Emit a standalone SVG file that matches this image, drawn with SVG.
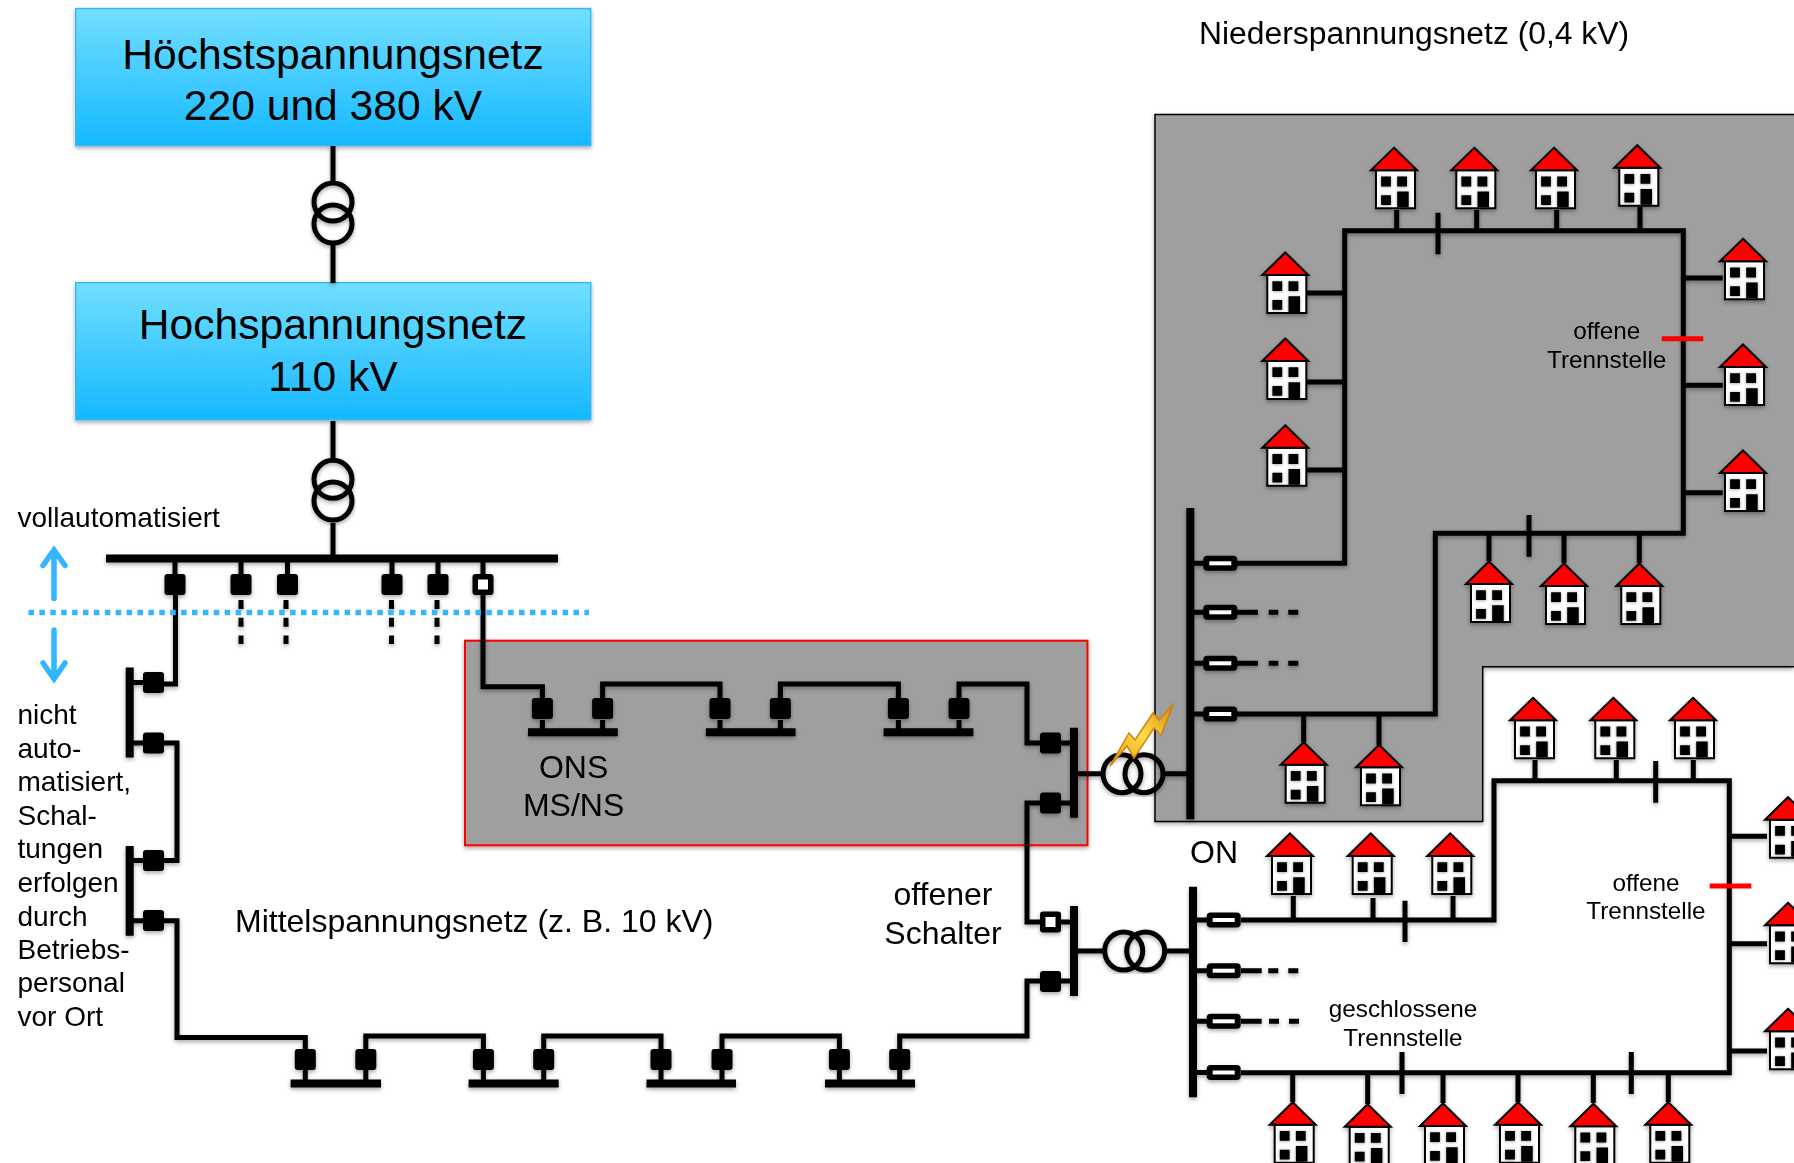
<svg xmlns="http://www.w3.org/2000/svg" width="1794" height="1163" viewBox="0 0 1794 1163">
<style>
text{font-family:"Liberation Sans",Arial,sans-serif;fill:#000}
.big{font-size:42.6px;text-anchor:middle}
.mid{font-size:32px}
.c{text-anchor:middle}
.sm{font-size:28px}
.xs{font-size:24.300px;text-anchor:middle}
.w{fill:none;stroke:#000;stroke-width:5;stroke-linejoin:miter}
.bus{fill:none;stroke:#000;stroke-width:8}
.dash{fill:none;stroke:#000;stroke-width:5}
.ring{fill:none;stroke:#000;stroke-width:5}
.sw{fill:#000}
.in{fill:#fff}
.red{stroke:#f00;stroke-width:5;fill:none}
</style>
<defs>
<linearGradient id="bg" x1="0" y1="0" x2="0" y2="1"><stop offset="0" stop-color="#72dfff"/><stop offset="1" stop-color="#15b8ff"/></linearGradient>
<linearGradient id="gold" x1="0" y1="1" x2="1" y2="0"><stop offset="0" stop-color="#e8960f"/><stop offset=".5" stop-color="#ffdf45"/><stop offset="1" stop-color="#d08410"/></linearGradient>
<filter id="sh" x="-10%" y="-10%" width="120%" height="120%"><feDropShadow dx="0" dy="2" stdDeviation="2" flood-color="#000" flood-opacity=".35"/></filter>
<filter id="halo" x="-30%" y="-30%" width="160%" height="160%"><feDropShadow dx="0" dy="0.500" stdDeviation="1.800" flood-color="#000" flood-opacity=".4"/></filter>
<symbol id="house" overflow="visible" viewBox="-25 0 50 64" width="50" height="64">
<path d="M-18 23H21V61H-18Z" fill="#fff" stroke="#000" stroke-width="2"/>
<path d="M-12.900 29.300h9.800v9.800h-9.800zM3.200 29.300h9.800v9.800h-9.800zM-12.900 48h9.800v9.800h-9.800zM3.200 44.300h11.500V60H3.200z" fill="#000" filter="url(#halo)"/>
<path d="M0 0.500L23 23H-23Z" fill="#f00" stroke="#000" stroke-width="2" stroke-linejoin="miter"/>
</symbol>
</defs>

<path id="nsnetz-flaeche" d="M1794 114.500H1155V821.500H1482.700V666.700H1794" fill="#9f9f9f" stroke="#000" stroke-width="1.500" filter="url(#sh)"/>
<rect id="ons-bereich" x="465" y="640.700" width="622.500" height="204.600" fill="#9f9f9f" stroke="#f00" stroke-width="2" filter="url(#sh)"/>

<g id="hoechst"><rect x="75.700" y="8.600" width="515" height="137" fill="url(#bg)" stroke="#3ab5f5" stroke-width="1.500" filter="url(#sh)"/>
<text class="big" x="333" y="69">Höchstspannungsnetz</text>
<text class="big" x="333" y="120">220 und 380 kV</text></g>
<g id="hoch"><rect x="75.700" y="282.700" width="515" height="137" fill="url(#bg)" stroke="#3ab5f5" stroke-width="1.500" filter="url(#sh)"/>
<text class="big" x="333" y="339">Hochspannungsnetz</text>
<text class="big" x="333" y="391">110 kV</text></g>

<g id="connectors" filter="url(#sh)">
<path class="w" d="M333 146V181M333 245V283M333 421V458M333 523V559"/>
<path class="bus" d="M106 558.600H558"/>
<path class="w" d="M175 559V574M241 559V574M287.500 559V574M392 559V574M438 559V574M483 559V574"/>
<path class="dash" stroke-dasharray="9 8.700" d="M241 600V644M286 600V644M391.500 600V644M437 600V644"/>
<path class="w" d="M175.500 595V684H164M143 682.500H133"/>
<path class="bus" d="M129.700 667.500V757.500M129.700 846V935.700"/>
<path class="w" d="M133 743H143M164 743H177V860.400H164M143 860.400H133M133 920.700H143M164 920.700H177V1037.500H305.300V1050M305.300 1070V1083"/>
<path class="w" d="M365.800 1083V1070M365.800 1050V1036H483.400V1050M483.400 1070V1083M543.700 1083V1070M543.700 1050V1036H661V1050M661 1070V1083M722 1083V1070M722 1050V1036H839.400V1050M839.400 1070V1083M899.700 1083V1070M899.700 1050V1036H1027V981H1040M1061 981H1071M1071 922H1061M1040 922H1027V803H1040M1061 803H1071M1071 743H1061M1040 743H1027V684H959V700M959 720V732M898.400 732V720M898.400 700V684H780.400V700M780.400 720V732M720 732V720M720 700V684H602.600V700M602.600 720V732M542.400 732V720M542.400 700V686.700H483V595"/>
<path class="bus" d="M528 732.300H617.800M705.900 732.300H795.600M883.600 732.300H973.400M290.600 1083.600H381M468.600 1083.600H558.700M646.500 1083.600H736M825 1083.600H915"/>
<path class="bus" d="M1074 727.700V817.700M1074 906V996"/>
<path class="w" d="M1074 773.700H1101M1165 773.700H1190M1074 951H1103M1167 951H1193"/>
<path class="bus" d="M1190.300 508V819.300M1193 886.700V1097.300"/>
<path class="w" d="M1190 563.300H1204M1237 563.300H1344.700V230.700H1683.300V533.300H1435.300V714H1237M1190 714H1204M1190 612.300H1204M1237 612.300H1258M1190 663.300H1204M1237 663.300H1258"/>
<path class="w" d="M1268.700 612.300H1278.300M1288.300 612.300H1298.300M1268.700 663.300H1278.300M1288.300 663.300H1298.300"/>
<path class="w" d="M1396.700 210V231M1476.700 210V231M1556.700 210V231M1640 207V231M1438 212.700V254.300M1306.700 293H1345M1306.700 382H1345M1306.700 470H1345M1684 278H1722.700M1684 385.300H1722.700M1684 492.700H1722.700M1303.700 714V742M1379 714V745M1489 533V561M1564 533V563M1639.300 533V563M1529 515V556.700"/>
<path class="w" d="M1193 920H1207M1241 920H1494V780.700H1729.300V1072.700H1241M1193 1072.500H1207M1193 970.700H1207M1241 970.700H1261.700M1193 1021.300H1207M1241 1021.300H1261.700"/>
<path class="w" d="M1268.300 970.700H1278.300M1288.300 970.700H1298.300M1269 1021.300H1279M1289 1021.300H1299"/>
<path class="w" d="M1535 760V781M1616.300 760V781M1693.300 760V781M1655.700 761V802.700M1293.300 896V920M1373 898V920M1453 896V920M1405 900.700V942M1729 836.300H1767M1729 943.700H1767M1729 1051H1767M1402 1052V1094M1631.300 1052V1094M1292.700 1073V1102M1367.700 1073V1104M1443 1073V1103M1518 1073V1102M1593.300 1073V1103M1668.300 1073V1102"/>
</g>

<g id="trafo-hs" filter="url(#sh)"><circle class="ring" cx="333" cy="202" r="19"/><circle class="ring" cx="333" cy="224" r="19"/></g>
<g id="trafo-hm" filter="url(#sh)"><circle class="ring" cx="333" cy="479.300" r="19"/><circle class="ring" cx="333" cy="501" r="19"/></g>
<g id="trafo-ons" filter="url(#sh)"><circle class="ring" cx="1122" cy="773.700" r="19"/><circle class="ring" cx="1144" cy="773.700" r="19"/></g>
<g id="trafo-on" filter="url(#sh)"><circle class="ring" cx="1123.700" cy="951" r="19"/><circle class="ring" cx="1145.700" cy="951" r="19"/></g>

<g id="schalter" filter="url(#sh)">
<g class="sw">
<rect x="164.500" y="574" width="21" height="21" rx="3"/><rect x="230.500" y="574" width="21" height="21" rx="3"/><rect x="277" y="574" width="21" height="21" rx="3"/><rect x="381.500" y="574" width="21" height="21" rx="3"/><rect x="427.500" y="574" width="21" height="21" rx="3"/><rect x="472.500" y="574" width="21" height="21" rx="3"/>
<rect x="143" y="672" width="21" height="21" rx="3"/><rect x="143" y="732.500" width="21" height="21" rx="3"/><rect x="143" y="850" width="21" height="21" rx="3"/><rect x="143" y="910" width="21" height="21" rx="3"/>
<rect x="294.800" y="1049" width="21" height="21" rx="3"/><rect x="355.300" y="1049" width="21" height="21" rx="3"/><rect x="472.900" y="1049" width="21" height="21" rx="3"/><rect x="533.200" y="1049" width="21" height="21" rx="3"/><rect x="650.500" y="1049" width="21" height="21" rx="3"/><rect x="711.500" y="1049" width="21" height="21" rx="3"/><rect x="828.900" y="1049" width="21" height="21" rx="3"/><rect x="889.200" y="1049" width="21" height="21" rx="3"/>
<rect x="531.900" y="698" width="21" height="21" rx="3"/><rect x="592.100" y="698" width="21" height="21" rx="3"/><rect x="709.500" y="698" width="21" height="21" rx="3"/><rect x="769.900" y="698" width="21" height="21" rx="3"/><rect x="887.900" y="698" width="21" height="21" rx="3"/><rect x="948.500" y="698" width="21" height="21" rx="3"/>
<rect x="1040" y="732.500" width="21" height="21" rx="3"/><rect x="1040" y="792.500" width="21" height="21" rx="3"/><rect x="1040" y="971" width="21" height="21" rx="3"/><rect x="1040" y="911.500" width="21" height="21" rx="3"/>
</g>
<rect class="in" x="478" y="579.500" width="10" height="10"/>
<rect class="in" x="1045.500" y="917" width="10" height="10"/>
</g>

<g id="sicherungen" filter="url(#sh)">
<g class="sw">
<rect x="1203.300" y="555.800" width="34" height="15" rx="4"/><rect x="1203.300" y="604.800" width="34" height="15" rx="4"/><rect x="1203.300" y="655.800" width="34" height="15" rx="4"/><rect x="1203.300" y="706.500" width="34" height="15" rx="4"/>
<rect x="1206.700" y="912.500" width="34" height="15" rx="4"/><rect x="1206.700" y="963.200" width="34" height="15" rx="4"/><rect x="1206.700" y="1013.800" width="34" height="15" rx="4"/><rect x="1206.700" y="1065" width="34" height="15" rx="4"/>
</g>
<g class="in">
<rect x="1209.300" y="561.300" width="22" height="4"/><rect x="1209.300" y="610.300" width="22" height="4"/><rect x="1209.300" y="661.300" width="22" height="4"/><rect x="1209.300" y="712" width="22" height="4"/>
<rect x="1212.700" y="918" width="22" height="4"/><rect x="1212.700" y="968.700" width="22" height="4"/><rect x="1212.700" y="1019.300" width="22" height="4"/><rect x="1212.700" y="1070.500" width="22" height="4"/>
</g>
</g>

<g id="haeuser" filter="url(#sh)">
<g id="h01"><use href="#house" x="1369" y="147.300"/></g><g id="h02"><use href="#house" x="1449.300" y="147.300"/></g><g id="h03"><use href="#house" x="1529" y="147.300"/></g><g id="h04"><use href="#house" x="1612.300" y="144.700"/></g>
<g id="h05"><use href="#house" x="1718" y="238.300"/></g><g id="h06"><use href="#house" x="1718" y="344"/></g><g id="h07"><use href="#house" x="1718" y="450"/></g>
<g id="h08"><use href="#house" x="1260.300" y="252"/></g><g id="h09"><use href="#house" x="1260.300" y="338"/></g><g id="h10"><use href="#house" x="1260.300" y="424.800"/></g>
<g id="h11"><use href="#house" x="1464" y="561"/></g><g id="h12"><use href="#house" x="1539" y="563"/></g><g id="h13"><use href="#house" x="1614.300" y="563"/></g>
<g id="h14"><use href="#house" x="1278.700" y="741.700"/></g><g id="h15"><use href="#house" x="1354" y="744.300"/></g>
<g id="h16"><use href="#house" x="1508" y="697.300"/></g><g id="h17"><use href="#house" x="1588.300" y="697.300"/></g><g id="h18"><use href="#house" x="1668" y="697.300"/></g>
<g id="h19"><use href="#house" x="1265" y="833"/></g><g id="h20"><use href="#house" x="1345.700" y="833"/></g><g id="h21"><use href="#house" x="1425.300" y="833"/></g>
<g id="h22"><use href="#house" x="1763" y="796.700"/></g><g id="h23"><use href="#house" x="1763" y="902.300"/></g><g id="h24"><use href="#house" x="1763" y="1008.300"/></g>
<g id="h25"><use href="#house" x="1267.700" y="1101.700"/></g><g id="h26"><use href="#house" x="1342.700" y="1103.700"/></g><g id="h27"><use href="#house" x="1418" y="1103"/></g><g id="h28"><use href="#house" x="1493" y="1101.700"/></g><g id="h29"><use href="#house" x="1568.300" y="1103.300"/></g><g id="h30"><use href="#house" x="1643.300" y="1101.700"/></g>
</g>

<g id="rote-trennstellen"><path class="red" d="M1661.700 338.700H1703.300M1709.700 886H1751.300"/></g>

<g id="grenze">
<path d="M28.500 612.500H589" fill="none" stroke="#33b5ff" stroke-width="5.500" stroke-dasharray="5.500 5.400"/>
<path d="M54 598.600V552M43 565.500L54 550L65 565.500M54 630V678M43 663L54 679L65 663" fill="none" stroke="#33b5ff" stroke-width="5.500" stroke-linecap="round"/>
</g>

<path id="blitz" d="M1110 766L1129 733L1135 740L1153 713L1159 720L1174 703L1161 735L1154 728L1134 758L1127 746Z" fill="url(#gold)" stroke="#d08410" stroke-width="1.500"/>

<g id="texte">
<text class="sm" x="17.500" y="526.500">vollautomatisiert</text>
<text class="sm" x="17.500" y="724">nicht</text>
<text class="sm" x="17.500" y="757.500">auto-</text>
<text class="sm" x="17.500" y="790.700">matisiert,</text>
<text class="sm" x="17.500" y="824.600">Schal-</text>
<text class="sm" x="17.500" y="857.500">tungen</text>
<text class="sm" x="17.500" y="892">erfolgen</text>
<text class="sm" x="17.500" y="926">durch</text>
<text class="sm" x="17.500" y="959.200">Betriebs-</text>
<text class="sm" x="17.500" y="992.400">personal</text>
<text class="sm" x="17.500" y="1025.600">vor Ort</text>
<text class="mid" x="235" y="932">Mittelspannungsnetz (z. B. 10 kV)</text>
<text class="mid c" x="573.600" y="778">ONS</text>
<text class="mid c" x="573.600" y="816">MS/NS</text>
<text class="mid c" x="943" y="905">offener</text>
<text class="mid c" x="943" y="944">Schalter</text>
<text class="mid" x="1199" y="44" style="font-size:31.850px">Niederspannungsnetz (0,4 kV)</text>
<text class="mid" x="1190" y="863">ON</text>
<text class="xs" x="1606.700" y="339">offene</text>
<text class="xs" x="1606.700" y="368">Trennstelle</text>
<text class="xs" x="1646" y="890.700">offene</text>
<text class="xs" x="1646" y="918.700">Trennstelle</text>
<text class="xs" x="1403" y="1016.700">geschlossene</text>
<text class="xs" x="1403" y="1045.700">Trennstelle</text>
</g>
</svg>
